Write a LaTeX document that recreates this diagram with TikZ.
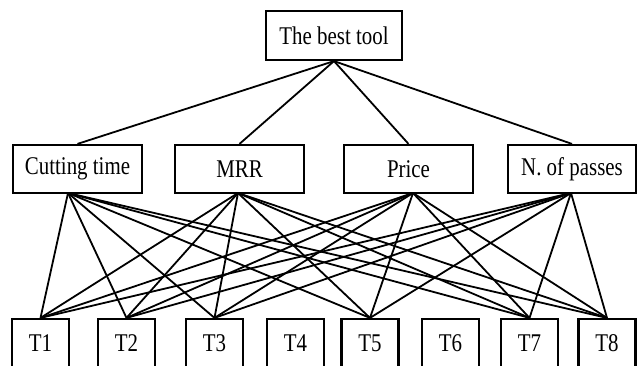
\documentclass[tikz,border=0pt]{standalone}
\usepackage{fontspec}
\setmainfont{Liberation Serif}
\newcommand{\cnd}[1]{\scalebox{0.82}[1]{\fontsize{25.5}{28}\selectfont #1}}
\begin{document}
\begin{tikzpicture}[x=1pt,y=-1pt,
  box/.style={draw,line width=2.2pt,inner sep=0pt},
  topbox/.style={box,minimum width=136pt,minimum height=49pt},
  critbox/.style={box,minimum width=129pt,minimum height=48pt},
  tbox/.style={box,minimum width=57pt,minimum height=49pt},
  link/.style={line width=1.8pt}]
\useasboundingbox (0,0) rectangle (638,365);
\node[topbox] (top) at (334,35.5) {\cnd{The best tool}};
\node[critbox] (c1) at (77.5,169) {\cnd{Cutting time}};
\node[critbox] (c2) at (239.5,169) {\cnd{MRR}};
\node[critbox] (c3) at (408.5,169) {\cnd{Price}};
\node[critbox,minimum width=128pt] (c4) at (572,169) {\cnd{N. of passes}};
\foreach \i/\x in {1/40.5,2/126.5,3/214.5,4/295.5,5/370,6/450.5,7/529.5,8/607}
  \node[tbox] (t\i) at (\x,343.5) {\cnd{T\i}};
\coordinate (b1) at (68,193);
\coordinate (b2) at (238,193);
\coordinate (b3) at (413,193);
\coordinate (b4) at (571,193);
\foreach \c in {1,2,3,4}
  \draw[link] (top.south) -- (c\c.north);
\foreach \c in {1,2,3,4}
  \foreach \t in {1,2,3,5,7,8}
    \draw[link] (b\c) -- (t\t.north);
\end{tikzpicture}
\end{document}
